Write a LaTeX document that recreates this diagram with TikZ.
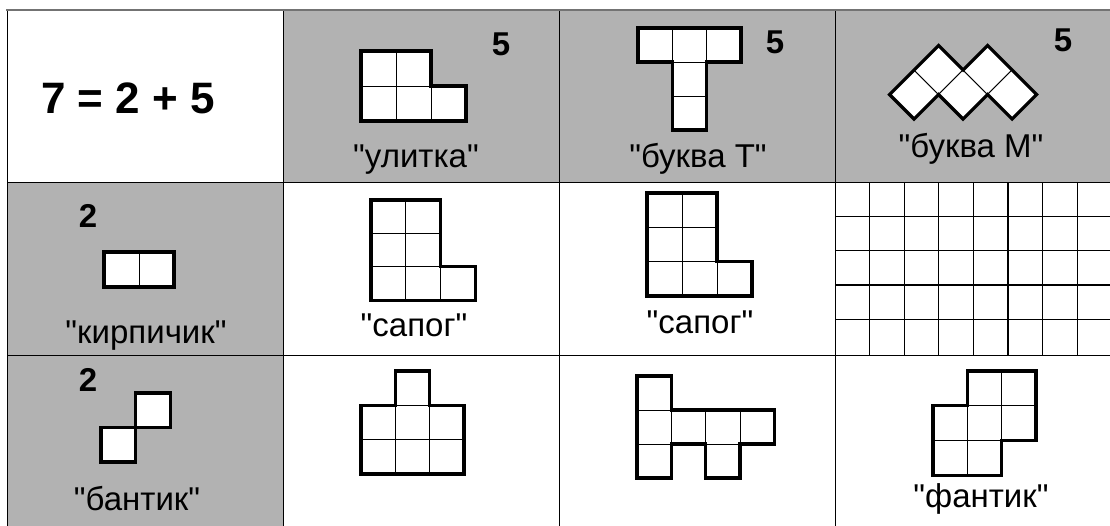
\documentclass[tikz,border=0pt]{standalone}
\usepackage{fontspec}
\newfontfamily\arialfont{Liberation Sans}

\begin{document}
\begin{tikzpicture}[
  x=1pt, y=-1pt,
  shade/.style={fill=black!30},
  rule/.style={line width=1pt},
  cell/.style={draw, fill=white, line width=0.8pt},
  outline/.style={line width=3.2pt, line join=miter},
  lbl/.style={anchor=base, font=\arialfont\fontsize{33}{36}\selectfont},
  num/.style={anchor=base, font=\arialfont\bfseries\fontsize{33}{36}\selectfont},
  eq/.style={anchor=base, font=\arialfont\bfseries\fontsize{44}{48}\selectfont}
]
  \clip (0,0) rectangle (1110,525);
  \fill[white] (0,0) rectangle (1110,525);

  % table
  \fill[shade] (283,10) rectangle (1120,182);
  \fill[shade] (7,182) rectangle (283,530);
  \foreach \xx in {7,283,559,835}
    \draw[rule] (\xx,10) -- (\xx,530);
  \draw[rule] (7,182) -- (1120,182);
  \draw[rule] (7,355) -- (1120,355);
  \draw[line width=1.5pt, black!55] (6,10) -- (1120,10);

  % squared paper
  \foreach \i in {1,...,8}
    \draw[line width=1.2pt] (835+34.6*\i,182) -- ++(0,173);
  \foreach \j in {1,...,4}
    \draw[line width=1.2pt] (835,182+34.3*\j) -- ++(290,0);

  \node[eq] (sum) at (128,113) {7 = 2 + 5};

  % ulitka
  \begin{scope}[shift={(361,51)}, x=35pt, y=-35pt]
    \foreach \c/\r in {0/0,1/0,0/1,1/1,2/1}
      \draw[cell] (\c,\r) rectangle ++(1,1);
    \draw[outline] (0,0) -- (2,0) -- (2,1) -- (3,1) -- (3,2) -- (0,2) -- cycle;
  \end{scope}
  \node[num] (n1) at (501,55) {5};
  \node[lbl] (ulitka) at (416,167) {"улитка"};

  % bukva T
  \begin{scope}[shift={(638,28)}, x=34.3pt, y=-34pt]
    \foreach \c/\r in {0/0,1/0,2/0,1/1,1/2}
      \draw[cell] (\c,\r) rectangle ++(1,1);
    \draw[outline] (0,0) -- (3,0) -- (3,1) -- (2,1) -- (2,3) -- (1,3) -- (1,1) -- (0,1) -- cycle;
  \end{scope}
  \node[num] (n2) at (775,53) {5};
  \node[lbl] (bukvaT) at (698,167) {"буква Т"};

  % bukva M
  \foreach \cx/\cy in {914/94.5,938.5/70,963/94.5,987.5/70,1012/94.5}
    \draw[cell] (\cx-24.5,\cy) -- (\cx,\cy-24.5) -- (\cx+24.5,\cy) -- (\cx,\cy+24.5) -- cycle;
  \draw[outline] (889.5,94.5) -- (938.5,45.5) -- (963,70) -- (987.5,45.5) -- (1036.5,94.5)
    -- (1012,119) -- (987.5,94.5) -- (963,119) -- (938.5,94.5) -- (914,119) -- cycle;
  \node[num] (n3) at (1063,51) {5};
  \node[lbl] (bukvaM) at (971,157) {"буква М"};

  % kirpichik
  \begin{scope}[shift={(104,252)}, x=35pt, y=-35pt]
    \foreach \c/\r in {0/0,1/0}
      \draw[cell] (\c,\r) rectangle ++(1,1);
    \draw[outline] (0,0) rectangle (2,1);
  \end{scope}
  \node[num] (n4) at (88,227) {2};
  \node[lbl] (kirpich) at (146,343) {"кирпичик"};

  % sapog 1
  \begin{scope}[shift={(371,200)}, x=34.7pt, y=-33.4pt]
    \foreach \c/\r in {0/0,1/0,0/1,1/1,0/2,1/2,2/2}
      \draw[cell] (\c,\r) rectangle ++(1,1);
    \draw[outline] (0,0) -- (2,0) -- (2,2) -- (3,2) -- (3,3) -- (0,3) -- cycle;
  \end{scope}
  \node[lbl] (sapogA) at (414,336) {"сапог"};

  % sapog 2
  \begin{scope}[shift={(647,193)}, x=35pt, y=-34.3pt]
    \foreach \c/\r in {0/0,1/0,0/1,1/1,0/2,1/2,2/2}
      \draw[cell] (\c,\r) rectangle ++(1,1);
    \draw[outline] (0,0) -- (2,0) -- (2,2) -- (3,2) -- (3,3) -- (0,3) -- cycle;
  \end{scope}
  \node[lbl] (sapogB) at (700,333) {"сапог"};

  % bantik
  \begin{scope}[shift={(101,393)}, x=34.7pt, y=-34.5pt]
    \foreach \c/\r in {1/0,0/1}
      \draw[cell] (\c,\r) rectangle ++(1,1);
    \draw[outline] (1,0) rectangle (2,1);
    \draw[outline] (0,1) rectangle (1,2);
  \end{scope}
  \node[num] (n5) at (88,391) {2};
  \node[lbl] (bantik) at (137,510) {"бантик"};

  % row 3, column 2
  \begin{scope}[shift={(361,371)}, x=34.3pt, y=-34.3pt]
    \foreach \c/\r in {1/0,0/1,1/1,2/1,0/2,1/2,2/2}
      \draw[cell] (\c,\r) rectangle ++(1,1);
    \draw[outline] (1,0) -- (2,0) -- (2,1) -- (3,1) -- (3,3) -- (0,3) -- (0,1) -- (1,1) -- cycle;
  \end{scope}

  % row 3, column 3
  \begin{scope}[shift={(637,376)}, x=34.3pt, y=-34pt]
    \foreach \c/\r in {0/0,0/1,1/1,2/1,3/1,0/2,2/2}
      \draw[cell] (\c,\r) rectangle ++(1,1);
    \draw[outline] (0,0) -- (1,0) -- (1,1) -- (4,1) -- (4,2) -- (3,2) -- (3,3) -- (2,3)
      -- (2,2) -- (1,2) -- (1,3) -- (0,3) -- cycle;
  \end{scope}

  % fantik
  \begin{scope}[shift={(933,371)}, x=34.3pt, y=-34.7pt]
    \foreach \c/\r in {1/0,2/0,0/1,1/1,2/1,0/2,1/2}
      \draw[cell] (\c,\r) rectangle ++(1,1);
    \draw[outline] (1,0) -- (3,0) -- (3,2) -- (2,2) -- (2,3) -- (0,3) -- (0,1) -- (1,1) -- cycle;
  \end{scope}
  \node[lbl] (fantik) at (981,507) {"фантик"};
\end{tikzpicture}
\end{document}
